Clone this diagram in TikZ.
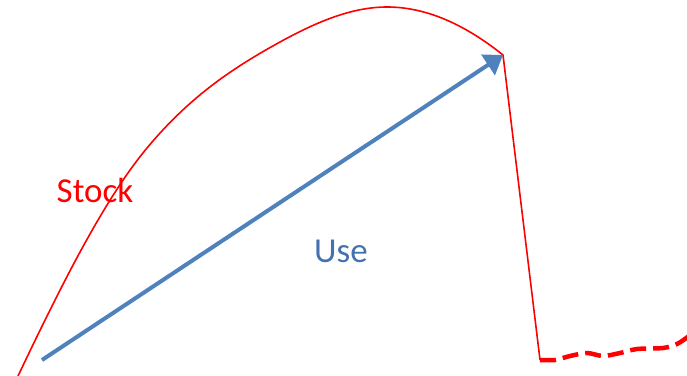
\documentclass[tikz,border=0pt]{standalone}
\usepackage{fontspec}
\setmainfont{Carlito}
\usetikzlibrary{arrows.meta}
\definecolor{arrowblue}{RGB}{79,129,189}
\definecolor{textblue}{RGB}{68,114,176}
\tikzset{
  redline/.style={draw=red, line width=1.6pt, line join=round},
  reddash/.style={draw=red, line width=4.5pt, dash pattern=on 16pt off 7pt},
  usearrow/.style={draw=arrowblue, line width=4pt, -{Triangle[length=18pt,width=24pt]}},
  lbl/.style={font=\fontsize{35}{40}\selectfont, inner sep=0pt}
}
\begin{document}
\begin{tikzpicture}[x=1pt,y=-1pt]
\useasboundingbox (0,0) rectangle (687,375);
\coordinate (start) at (42,360);
\coordinate (top) at (503,55);
\coordinate (bottom) at (540,360);
\coordinate (c0) at (18,376);
% stock curve
\draw[redline] (c0) .. controls (61,285.7) and (104,199.6) .. (147,148)
  .. controls (191.3,94.8) and (235.7,66.4) .. (280,42)
  .. controls (315.7,22.4) and (351.3,7) .. (387,7)
  .. controls (425.7,7) and (464.3,24) .. (top) -- (bottom);
\draw[reddash] plot[smooth, tension=0.5] coordinates {(540,360) (555,360) (570,356) (587,353) (603,356) (620,353) (637,349) (663,348) (677,344) (689,336)};
\draw[usearrow] (start) -- (top);
\node[lbl, text=red, anchor=base] (stock) at (95,202) {Stock};
\node[lbl, text=textblue, anchor=base] (use) at (341,262) {Use};
\end{tikzpicture}
\end{document}
